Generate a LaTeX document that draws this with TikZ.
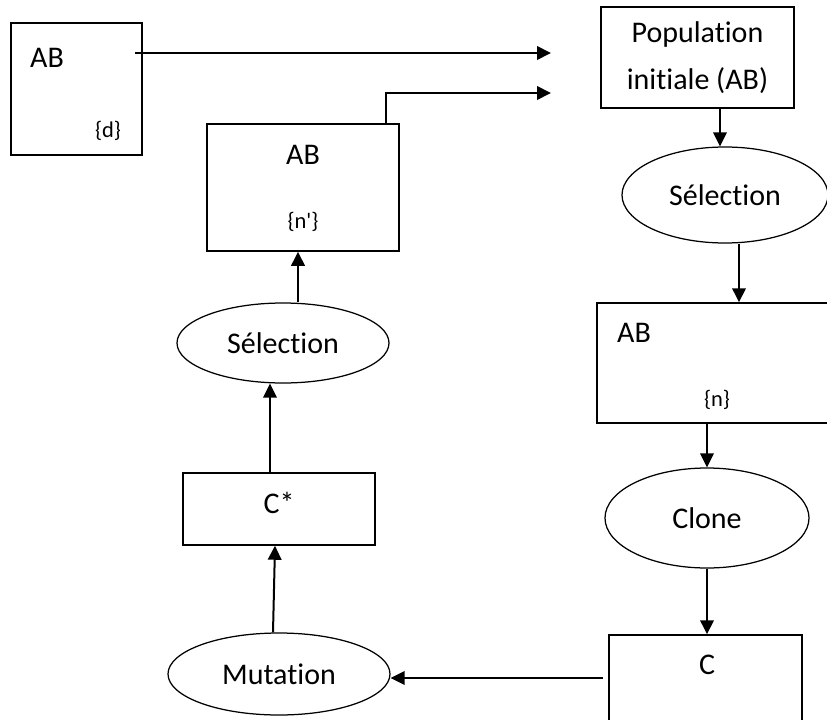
\documentclass[tikz,border=0pt]{standalone}
\usepackage{fontspec}
\setmainfont{Carlito}[Ligatures=NoCommon]
\usetikzlibrary{arrows.meta,shapes.geometric}

\tikzset{
  box/.style={draw,line width=0.6pt,inner sep=0pt},
  oval/.style={draw,ellipse,line width=0.5pt,inner sep=0pt},
  arr/.style={-{Triangle[length=5.6pt,width=5.4pt]},line width=0.8pt},
  txt/.style={font=\fontsize{12}{14.4}\selectfont,inner sep=0pt},
  small/.style={font=\fontsize{9}{10.8}\selectfont,inner sep=0pt}
}

\begin{document}
\begin{tikzpicture}[x=0.4pt,y=-0.4pt]
          \path[use as bounding box] (0,0) rectangle (827,720);
          \clip (0,0) rectangle (827,720);

          % boxes
          \node[box,minimum width=52.4pt,minimum height=52.8pt] (bd) at (76.5,89) {};
          \node[box,txt,align=center,minimum width=77.2pt,minimum height=40.4pt,
                font=\fontsize{12}{18.8}\selectfont] (pop) at (697.5,57.5) {Population\\initiale (AB)};
          \node[box,minimum width=76.8pt,minimum height=50.8pt] (bnp) at (303,187.5) {};
          \node[box,minimum width=97.2pt,minimum height=48pt] (bn) at (718.5,363) {};
          \node[box,minimum width=76.8pt,minimum height=28.8pt] (cs) at (279,509) {};
          \node[box,minimum width=77.2pt,minimum height=50pt] (bc) at (705.5,697.5) {};

          % ellipses
          \node[oval,txt,minimum width=82.4pt,minimum height=38.4pt] (sel1) at (725,195) {Sélection};
          \node[oval,txt,minimum width=81.6pt,minimum height=40pt] (clone) at (707,518) {Clone};
          \node[oval,txt,minimum width=84.8pt,minimum height=32pt] (sel2) at (283,343) {Sélection};
          \node[oval,txt,minimum width=88.8pt,minimum height=32.8pt] (mut) at (279,674) {Mutation};

          % texts in the boxes
          \node[txt] (bdAB) at (47,58) {AB};
          \node[small] (bdd) at (108,131) {\{d\}};
          \node[txt] (bnpAB) at (303,155) {AB};
          \node[small] (bnpn) at (303,222) {\{n\textquotesingle\}};
          \node[txt] (bnAB) at (634,333) {AB};
          \node[small] (bnn) at (717,400) {\{n\}};
          \node[txt] (csC) at (279,503) {C*};
          \node[txt] (bcC) at (707,665) {C};

          % free ends
          \coordinate (in1) at (551,53);
          \coordinate (in2) at (551,93);
          \coordinate (bco) at (603,678);

          \draw[arr] (in1 -| 135,0) -- (in1);
          \draw[arr] ([xshift=-5.6pt]bnp.north east) |- (in2);
          \draw[arr] ([xshift=9pt]pop.south) -- ([xshift=9pt]pop.south |- sel1.north);
          \draw[arr] ([xshift=5.6pt]sel1.south) -- ([xshift=5.6pt]sel1.south |- bn.north);
          \draw[arr] (clone.north |- bn.south) -- (clone.north);
          \draw[arr] (clone.south) -- (clone.south |- bc.north);
          \draw[arr] (bco) -- (bco -| mut.east);
          \draw[arr] ([xshift=-2.4pt]mut.north) -- ([xshift=-1.6pt]cs.south);
          \draw[arr] ([xshift=-3.6pt]cs.north) -- ([xshift=-3.6pt]cs.north |- sel2.south);
          \draw[arr] ([xshift=-2pt]bnp.south |- sel2.north) -- ([xshift=-2pt]bnp.south);
      \end{tikzpicture}
\end{document}
